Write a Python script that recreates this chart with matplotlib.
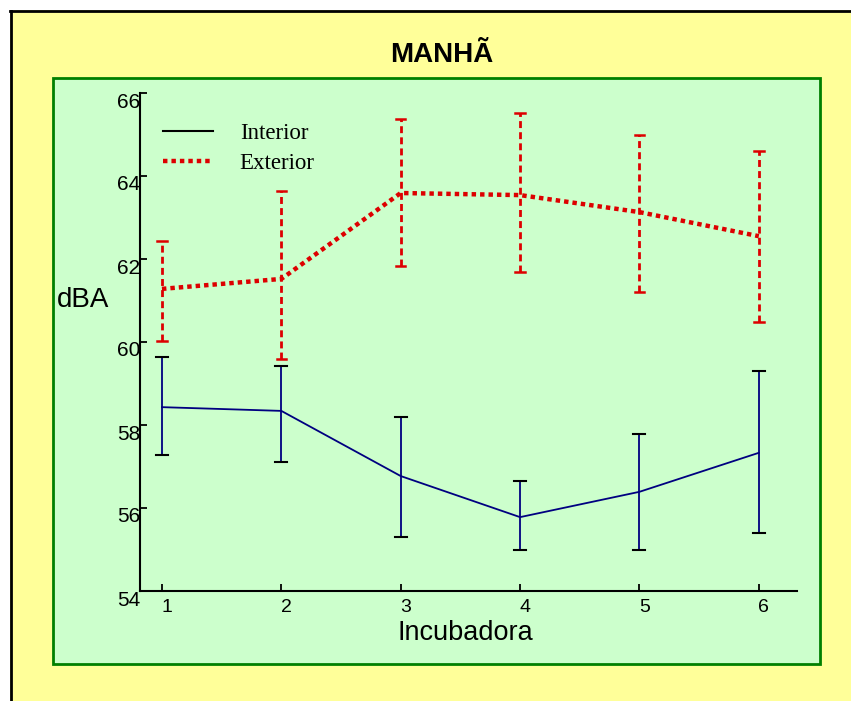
#!/usr/bin/env python3
"""
Noise level (dBA) per incubator, morning shift: interior vs exterior.
"""

import matplotlib
matplotlib.use('Agg')
import matplotlib.pyplot as plt
import matplotlib.transforms as mtransforms
from matplotlib.patches import Rectangle
from matplotlib.lines import Line2D

# Data
incubadoras = [1, 2, 3, 4, 5, 6]
interior_mean = [58.43, 58.34, 56.77, 55.78, 56.39, 57.33]
interior_low = [57.28, 57.11, 55.30, 54.99, 54.99, 55.40]
interior_high = [59.64, 59.42, 58.19, 56.65, 57.78, 59.30]
exterior_mean = [61.28, 61.52, 63.59, 63.54, 63.13, 62.55]
exterior_low = [60.02, 59.59, 61.83, 61.69, 61.20, 60.48]
exterior_high = [62.43, 63.64, 65.37, 65.52, 64.99, 64.60]
y_ticks = [54, 56, 58, 60, 62, 64, 66]

W, H = 851, 701
yellow = '#ffff99'
panel = '#ccffcc'
green = '#008000'
red = '#dd0000'
navy = '#000080'

fig = plt.figure(figsize=(W / 100, H / 100), dpi=100)
fig.patch.set_facecolor(yellow)

# White margin and black frame at the top-left edge
fig.patches.append(Rectangle((0, 0), 10 / W, 1, transform=fig.transFigure,
                             facecolor='white', edgecolor='none', zorder=0))
fig.patches.append(Rectangle((0, 1 - 10 / H), 1, 10 / H, transform=fig.transFigure,
                             facecolor='white', edgecolor='none', zorder=0))
fig.lines.append(Line2D([11 / W, 11 / W], [0, 1 - 11 / H], transform=fig.transFigure,
                        color='black', lw=2))
fig.lines.append(Line2D([10 / W, 1], [1 - 11 / H, 1 - 11 / H], transform=fig.transFigure,
                        color='black', lw=2))

# Plot area panel
fig.patches.append(Rectangle((53 / W, 1 - 664 / H), (820 - 53) / W, (664 - 78) / H,
                             transform=fig.transFigure, facecolor=panel,
                             edgecolor=green, lw=2, zorder=0))

fig.text(442 / W, 1 - 55 / H, 'MANHÃ', ha='center', va='center',
         fontsize=20, fontweight='bold', family='Liberation Sans')

ax = fig.add_axes([140 / W, 1 - 591 / H, (797 - 140) / W, (591 - 93) / H])
ax.set_zorder(5)
ax.patch.set_alpha(0)

# Interior
ax.plot(incubadoras, interior_mean, color=navy, lw=1.3, zorder=3)
for x, lo, hi in zip(incubadoras, interior_low, interior_high):
    ax.plot([x, x], [lo, hi], color=navy, lw=1.3, zorder=3)
    for yv in (lo, hi):
        ax.plot([x - 0.05, x + 0.05], [yv, yv], color='black', lw=1.5, zorder=3)

# Exterior
ax.plot(incubadoras, exterior_mean, color=red, lw=3.2,
        linestyle=(0, (1, 0.9)), dash_capstyle='butt', zorder=4)
for x, lo, hi in zip(incubadoras, exterior_low, exterior_high):
    ax.plot([x, x], [lo, hi], color=red, lw=2.0, linestyle=(0, (2.5, 1.5)),
            dash_capstyle='butt', zorder=4)
    for yv in (lo, hi):
        ax.plot([x - 0.04, x + 0.04], [yv, yv], color=red, lw=1.8, zorder=4)

ax.set_xlim(0.816, 6.32)
ax.set_ylim(54, 66)
ax.set_xticks(incubadoras)
ax.set_yticks(y_ticks)
ax.set_xticklabels([str(i) for i in incubadoras])
ax.set_yticklabels([str(v) for v in y_ticks])

for side in ('top', 'right'):
    ax.spines[side].set_visible(False)
for side in ('left', 'bottom'):
    ax.spines[side].set_linewidth(1.5)

ax.tick_params(axis='both', direction='in', length=5, width=1.3,
               colors='black')
ax.tick_params(axis='y', pad=0, labelsize=15)
ax.tick_params(axis='x', pad=6, labelsize=14)
for lbl in ax.get_yticklabels():
    lbl.set_family('Liberation Sans')
    lbl.set_transform(lbl.get_transform() +
                      mtransforms.ScaledTranslation(0, -7 / 100, fig.dpi_scale_trans))
for lbl in ax.get_xticklabels():
    lbl.set_family('Liberation Sans')
    lbl.set_transform(lbl.get_transform() +
                      mtransforms.ScaledTranslation(5 / 100, 0, fig.dpi_scale_trans))

fig.text(83 / W, 1 - 300 / H, 'dBA', ha='center', va='center',
         fontsize=20, family='Liberation Sans')
fig.text(465 / W, 1 - 633 / H, 'Incubadora', ha='center', va='center',
         fontsize=19.5, family='Liberation Sans')

handles = [Line2D([], [], color='black', lw=1.5),
           Line2D([], [], color=red, lw=3.2, linestyle=(0, (1, 0.9)),
                  dash_capstyle='butt')]
ax.legend(handles, ['Interior', 'Exterior'], loc='upper left',
          bbox_to_anchor=(0.035, 0.94), borderaxespad=0, borderpad=0,
          frameon=False, handlelength=2.2, handletextpad=1.15,
          labelspacing=0.4,
          prop={'family': 'Liberation Serif', 'size': 16.5})

fig.savefig('out.png', dpi=100, facecolor=fig.get_facecolor())
